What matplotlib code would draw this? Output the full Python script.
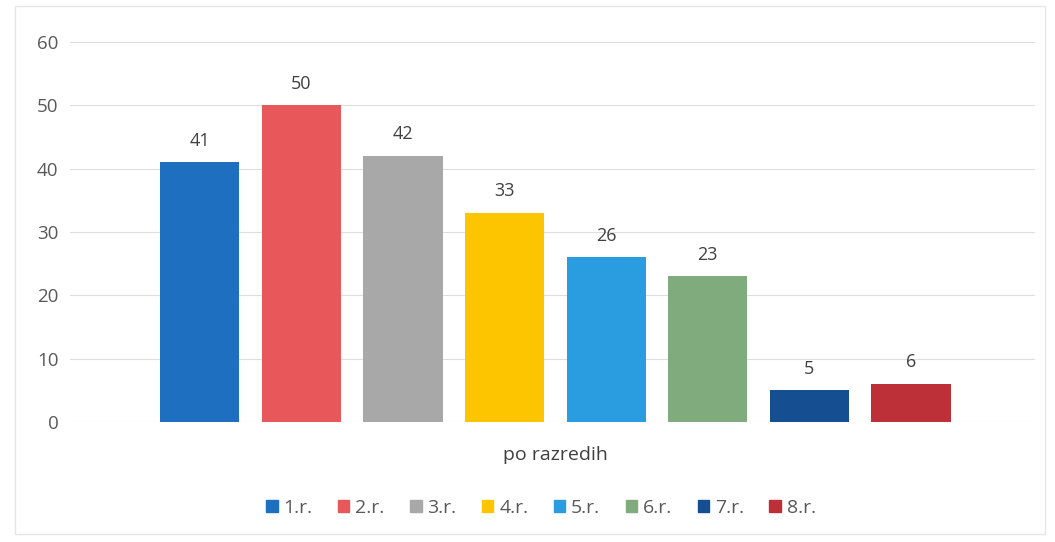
import matplotlib.pyplot as plt
from matplotlib.patches import Rectangle

categories = ["1.r.", "2.r.", "3.r.", "4.r.", "5.r.", "6.r.", "7.r.", "8.r."]
values = [41, 50, 42, 33, 26, 23, 5, 6]
colors = ["#1f6fc1", "#e8585a", "#a8a8a8", "#fdc500",
          "#2a9de0", "#80ab7c", "#154f91", "#bd3038"]
y_ticks = [0, 10, 20, 30, 40, 50, 60]
x_label = "po razredih"

plt.rcParams["font.family"] = ["Open Sans", "DejaVu Sans"]

fig = plt.figure(figsize=(10.55, 5.42), dpi=100)
ax = fig.add_axes([0.066, 0.2214, 0.915, 0.7011])

x = list(range(len(values)))
ax.bar(x, values, width=0.78, color=colors, zorder=3)
for xi, v in zip(x, values):
    ax.text(xi, v + 2, str(v), ha="center", va="bottom",
            fontsize=13, color="#404040")

ax.set_xlim(-1.28, 8.22)
ax.set_ylim(0, 60)
ax.set_yticks(y_ticks)
ax.yaxis.grid(True, color="#dedede", linewidth=0.8, zorder=0)
ax.set_xticks([])
for s in ax.spines.values():
    s.set_visible(False)
ax.tick_params(axis="y", length=0, pad=8, labelsize=13.5, labelcolor="#595959")

fig.text(555 / 1055, 1 - 455 / 542, x_label, ha="center", va="center",
         fontsize=14, color="#404040")

handles = [Rectangle((0, 0), 1, 1, color=c) for c in colors]
fig.legend(handles, categories, loc="center", ncol=len(categories),
           bbox_to_anchor=(541 / 1055, 1 - 508 / 542), frameon=False,
           fontsize=14, handlelength=0.6, handleheight=0.6,
           handletextpad=0.3, columnspacing=1.3, labelcolor="#595959")

# light frame around the chart area
fig.add_artist(Rectangle((15 / 1055, 8 / 542), 1030 / 1055, 528 / 542,
                         transform=fig.transFigure, fill=False,
                         edgecolor="#e6e6e6", linewidth=1))

fig.savefig("out.png", dpi=100)
